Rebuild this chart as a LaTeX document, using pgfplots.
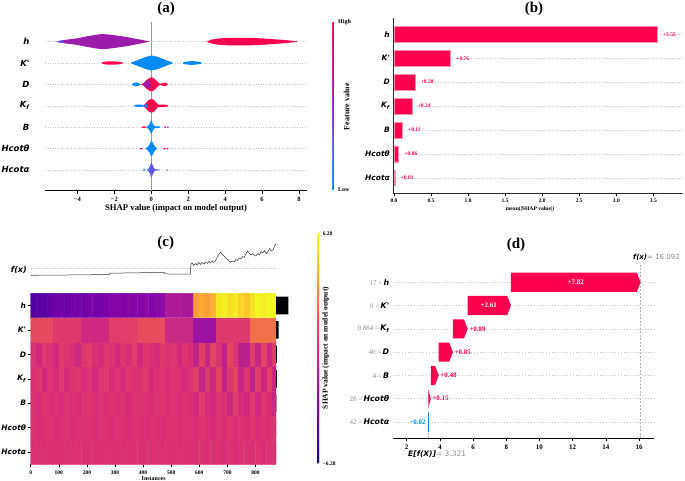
\documentclass[border=0pt]{standalone}
\usepackage{fontspec}
\setmainfont{Liberation Serif}
\newfontfamily\djv{DejaVu Sans}
\usepackage{pgfplots}
\pgfplotsset{compat=1.18}
\definecolor{shapRed}{RGB}{255,0,81}
\definecolor{shapBlue}{RGB}{0,139,251}
\definecolor{shapPurple}{RGB}{155,28,170}
\definecolor{gridc}{RGB}{200,200,200}
\definecolor{slate}{RGB}{92,92,226}
\definecolor{pinkp}{RGB}{185,40,170}
\newcommand{\fs}[1]{\fontsize{#1}{#1}\selectfont}
\newcommand{\feat}[1]{{\djv\bfseries\itshape #1}}
\newcommand{\gv}[1]{{\color{black!45}\fs{7}#1}}
\pgfplotsset{
 colormap={shaprb}{rgb255=(0,139,251) rgb255=(90,100,232) rgb255=(155,35,190) rgb255=(210,10,140) rgb255=(255,0,81)},
 colormap={plasmaS}{rgb255=(13,8,135) rgb255=(76,2,161) rgb255=(126,3,168) rgb255=(170,25,155) rgb255=(215,45,120) rgb255=(232,80,90) rgb255=(248,140,60) rgb255=(253,195,40) rgb255=(240,249,33)},
}
\begin{document}
\begin{tikzpicture}
\path[use as bounding box, fill=white] (0,0) rectangle (685pt,-481pt);

% ---------------- (a) ----------------
\begin{axis}[
 at={(45pt,-190.7pt)}, anchor=south west, scale only axis,
 width=262pt, height=169pt,
 xmin=-5.75, xmax=8.43, ymin=-0.97, ymax=6.93,
 axis x line*=bottom, axis y line*=left,
 y axis line style={draw=none}, ytick style={draw=none},
 x axis line style={line width=0.6pt},
 xtick={-4,-2,0,2,4,6,8},
 xticklabels={−4,−2,0,2,4,6,8},
 xtick align=outside, xtick style={black, line width=0.6pt}, major tick length=3pt,
 ytick={0,...,6},
 yticklabels={\feat{Hcotα},\feat{Hcotθ},\feat{B},\feat{K\textsubscript{f}},\feat{D},\feat{K'},\feat{h}},
 yticklabel style={font=\fs{8.5}},
 yticklabel shift=12pt,
 xticklabel style={font=\bfseries\fs{6.5}},
 ymajorgrids, grid style={gridc, dash pattern=on 0.6pt off 2pt, line width=0.5pt},
 colormap name=shaprb, point meta min=0, point meta max=1,
 colorbar sampled,
 colorbar style={at={(parent axis.north east)}, anchor=north west, xshift=16.9pt,
   scale only axis, width=2.2pt, height=168.3pt, samples=80,
   ytick={0,1}, yticklabels={Low,High}, yticklabel shift=0pt,
   yticklabel style={font=\bfseries\fs{6}},
   major tick length=0pt, axis line style={draw=none}, ytick style={draw=none}, xtick=\empty},
]
\addplot[black!40, line width=1pt] coordinates {(0,-0.97) (0,6.93)};
% h
\addplot[fill=shapPurple, draw=none] coordinates {(-5.12,6.01) (-4.9,6.05) (-4.6,6.09) (-4.2,6.13) (-3.8,6.19) (-3.4,6.26) (-3.0,6.32) (-2.7,6.35) (-2.4,6.34) (-2.0,6.30) (-1.6,6.25) (-1.3,6.21) (-1.0,6.16) (-0.7,6.11) (-0.4,6.06) (-0.12,6.01) (-0.12,5.99) (-0.4,5.94) (-0.7,5.89) (-1.0,5.84) (-1.3,5.79) (-1.6,5.75) (-2.0,5.70) (-2.4,5.66) (-2.7,5.65) (-3.0,5.68) (-3.4,5.74) (-3.8,5.81) (-4.2,5.87) (-4.6,5.91) (-4.9,5.95) (-5.12,5.99)} -- cycle;
\addplot[fill=slate, draw=none] coordinates {(-5.12,6.01) (-4.9,6.05) (-4.75,6.07) (-4.75,5.93) (-4.9,5.95) (-5.12,5.99)} -- cycle;
\addplot[fill=shapRed, draw=none] coordinates {(3.04,6.02) (3.3,6.10) (3.7,6.15) (4.2,6.175) (4.8,6.18) (5.5,6.17) (6.2,6.14) (6.8,6.10) (7.3,6.07) (7.6,6.04) (7.79,6.02) (7.79,5.98) (7.6,5.96) (7.3,5.93) (6.8,5.90) (6.2,5.86) (5.5,5.83) (4.8,5.82) (4.2,5.825) (3.7,5.85) (3.3,5.90) (3.04,5.98)} -- cycle;
\addplot[fill=pinkp, draw=none] coordinates {(7.8,6) (7.83,6.03) (7.88,6.03) (7.9,6) (7.88,5.97) (7.83,5.97)} -- cycle;
% K'
\addplot[fill=shapRed, draw=none] coordinates {(-2.68,5.02) (-2.55,5.06) (-2.3,5.08) (-2.0,5.08) (-1.75,5.06) (-1.54,5.02) (-1.54,4.98) (-1.75,4.94) (-2.0,4.92) (-2.3,4.92) (-2.55,4.94) (-2.68,4.98)} -- cycle;
\addplot[fill=shapBlue, draw=none] coordinates {(-1.09,5.02) (-0.9,5.08) (-0.6,5.18) (-0.3,5.28) (0,5.35) (0.3,5.30) (0.6,5.20) (0.9,5.10) (1.16,5.02) (1.16,4.98) (0.9,4.90) (0.6,4.80) (0.3,4.70) (0,4.65) (-0.3,4.72) (-0.6,4.82) (-0.9,4.92) (-1.09,4.98)} -- cycle;
\addplot[fill=shapBlue, draw=none] coordinates {(1.71,5.02) (1.85,5.06) (2.1,5.085) (2.4,5.08) (2.6,5.05) (2.73,5.02) (2.73,4.98) (2.6,4.95) (2.4,4.92) (2.1,4.915) (1.85,4.94) (1.71,4.98)} -- cycle;
% D
\addplot[fill=shapBlue, draw=none] coordinates {(-1.02,4.02) (-0.95,4.07) (-0.82,4.09) (-0.7,4.07) (-0.61,4.02) (-0.61,3.98) (-0.7,3.93) (-0.82,3.91) (-0.95,3.93) (-1.02,3.98)} -- cycle;
\addplot[fill=shapRed, draw=none] coordinates {(-0.58,4.01) (-0.45,4.04) (-0.35,4.12) (-0.2,4.24) (-0.05,4.32) (0.05,4.33) (0.2,4.24) (0.32,4.13) (0.42,4.05) (0.52,4.025) (0.6,4.06) (0.7,4.08) (0.8,4.07) (0.89,4.02) (0.89,3.98) (0.8,3.93) (0.7,3.92) (0.6,3.94) (0.52,3.975) (0.42,3.95) (0.32,3.87) (0.2,3.76) (0.05,3.67) (-0.05,3.68) (-0.2,3.76) (-0.35,3.88) (-0.45,3.96) (-0.58,3.99)} -- cycle;
\addplot[fill=shapPurple, draw=none] coordinates {(-0.45,4.0) (-0.35,4.09) (-0.2,4.17) (-0.08,4.2) (-0.08,3.8) (-0.2,3.83) (-0.35,3.91)} -- cycle;
% Kf
\addplot[fill=shapBlue, draw=none] coordinates {(-0.93,3.015) (-0.8,3.05) (-0.6,3.06) (-0.45,3.04) (-0.37,3.03) (-0.37,2.97) (-0.45,2.96) (-0.6,2.94) (-0.8,2.95) (-0.93,2.985)} -- cycle;
\addplot[fill=shapRed, draw=none] coordinates {(-0.4,3.03) (-0.3,3.12) (-0.15,3.26) (0,3.32) (0.1,3.30) (0.22,3.20) (0.32,3.10) (0.4,3.05) (0.5,3.05) (0.65,3.06) (0.8,3.05) (0.93,3.015) (0.93,2.985) (0.8,2.95) (0.65,2.94) (0.5,2.95) (0.4,2.95) (0.32,2.90) (0.22,2.80) (0.1,2.70) (0,2.68) (-0.15,2.74) (-0.3,2.88) (-0.4,2.97)} -- cycle;
\addplot[fill=shapBlue, draw=none] coordinates {(-0.4,3.0) (-0.3,3.08) (-0.22,3.1) (-0.22,2.9) (-0.3,2.92)} -- cycle;
% B
\addplot[fill=shapRed, draw=none] coordinates {(-0.51,2.02) (-0.45,2.035) (-0.35,2.035) (-0.28,2.02) (-0.28,1.98) (-0.35,1.965) (-0.45,1.965) (-0.51,1.98)} -- cycle;
\addplot[fill=shapBlue, draw=none] coordinates {(-0.27,2.01) (-0.18,2.06) (-0.1,2.14) (-0.04,2.26) (0,2.33) (0.04,2.26) (0.1,2.13) (0.17,2.06) (0.24,2.035) (0.35,2.04) (0.45,2.03) (0.5,2.01) (0.5,1.99) (0.45,1.97) (0.35,1.96) (0.24,1.965) (0.17,1.94) (0.1,1.87) (0.04,1.74) (0,1.67) (-0.04,1.74) (-0.1,1.86) (-0.18,1.94) (-0.27,1.99)} -- cycle;
\addplot[fill=pinkp, draw=none] coordinates {(0.69,2) (0.72,2.035) (0.78,2.035) (0.8,2) (0.78,1.965) (0.72,1.965)} -- cycle;
\addplot[fill=pinkp, draw=none] coordinates {(0.84,2) (0.87,2.035) (0.92,2.035) (0.95,2) (0.92,1.965) (0.87,1.965)} -- cycle;
% Hcot theta
\addplot[fill=shapRed, draw=none] coordinates {(-0.6,1) (-0.57,1.035) (-0.49,1.035) (-0.46,1) (-0.49,0.965) (-0.57,0.965)} -- cycle;
\addplot[fill=shapBlue, draw=none] coordinates {(-0.3,1.01) (-0.2,1.07) (-0.1,1.18) (-0.03,1.31) (0.02,1.36) (0.07,1.30) (0.15,1.16) (0.22,1.07) (0.3,1.02) (0.3,0.98) (0.22,0.93) (0.15,0.84) (0.07,0.70) (0.02,0.64) (-0.03,0.69) (-0.1,0.82) (-0.2,0.93) (-0.3,0.99)} -- cycle;
\addplot[fill=shapRed, draw=none] coordinates {(0.66,1) (0.69,1.035) (0.76,1.035) (0.78,1) (0.76,0.965) (0.69,0.965)} -- cycle;
\addplot[fill=shapRed, draw=none] coordinates {(0.83,1) (0.86,1.035) (0.91,1.035) (0.93,1) (0.91,0.965) (0.86,0.965)} -- cycle;
% Hcot alpha
\addplot[fill=shapBlue, draw=none] coordinates {(-0.46,0) (-0.43,0.03) (-0.33,0.03) (-0.3,0) (-0.33,-0.03) (-0.43,-0.03)} -- cycle;
\addplot[fill=slate, draw=none] coordinates {(-0.22,0.01) (-0.15,0.06) (-0.08,0.16) (-0.02,0.30) (0.01,0.35) (0.05,0.28) (0.11,0.15) (0.17,0.06) (0.22,0.03) (0.32,0.03) (0.45,0.01) (0.45,-0.01) (0.32,-0.03) (0.22,-0.03) (0.17,-0.06) (0.11,-0.15) (0.05,-0.28) (0.01,-0.35) (-0.02,-0.30) (-0.08,-0.16) (-0.15,-0.06) (-0.22,-0.01)} -- cycle;
\addplot[fill=shapPurple, draw=none] coordinates {(0.82,0) (0.84,0.03) (0.87,0.03) (0.89,0) (0.87,-0.03) (0.84,-0.03)} -- cycle;
\end{axis}

% ---------------- (b) ----------------
\begin{axis}[
 at={(393.3pt,-193.3pt)}, anchor=south west, scale only axis,
 width=289.7pt, height=175pt,
 xmin=-0.01, xmax=3.9, ymin=-0.65, ymax=6.67,
 axis x line*=bottom, axis y line*=left,
 axis line style={line width=0.6pt, black!85},
 ytick={0,...,6}, ytick style={draw=none},
 yticklabels={\feat{Hcotα},\feat{Hcotθ},\feat{B},\feat{K\textsubscript{f}},\feat{D},\feat{K'},\feat{h}},
 yticklabel style={font=\fs{7.5}},
 xtick={0,0.5,1,1.5,2,2.5,3,3.5}, xticklabels={0.0,0.5,1.0,1.5,2.0,2.5,3.0,3.5},
 xticklabel style={font=\bfseries\fs{5.5}},
 xtick align=outside, major tick length=2.5pt, xtick style={black, line width=0.5pt},
 ymajorgrids, grid style={gridc, dash pattern=on 0.6pt off 2pt, line width=0.5pt},
]
\addplot[xbar, bar width=0.66, fill=shapRed, draw=shapRed!45!white, line width=0.4pt,
 point meta=explicit symbolic, nodes near coords,
 nodes near coords style={font=\bfseries\fs{5.5}, text=shapRed, anchor=west, xshift=2.5pt}]
 coordinates {(3.55,6) [+3.55] (0.76,5) [+0.76] (0.28,4) [+0.28] (0.24,3) [+0.24] (0.11,2) [+0.11] (0.06,1) [+0.06] (0.01,0) [+0.01]};
\end{axis}

% ---------------- (c) f(x) line ----------------
\begin{axis}[
 at={(30.7pt,-280pt)}, anchor=south west, scale only axis,
 width=245.3pt, height=40pt,
 xmin=0, xmax=873, ymin=240, ymax=280, y dir=reverse, hide axis,
]
\addplot[gridc, dash pattern=on 0.8pt off 1.2pt, line width=0.5pt] coordinates {(0,268.5) (873,268.5)};
\addplot[black!80, line width=0.5pt] coordinates {
(0,275.3) (100,275.1) (200,274.8) (280,274.5) (283,273.2) (330,273.0) (380,272.8) (430,272.5) (475,272.3) (478,273.9) (520,274.2) (568,274.0)
(570,264.5) (575,263) (580,265.5) (586,263.5) (592,265) (598,262.5) (604,264.5) (610,262.5) (616,264) (622,262) (628,263.5) (634,261.5) (640,263) (646,261) (652,262.5) (658,260.5)
(664,257) (670,254) (676,252) (682,254.5) (688,256) (694,258) (700,259.5) (706,261) (712,262) (718,261) (724,262) (730,259.5) (736,260.5) (742,258) (748,259) (754,256.5) (760,257.5)
(766,253.5) (772,251) (778,253.5) (784,255) (790,253.5) (796,255.5) (802,256) (808,253.5) (814,255) (820,251.5) (826,253) (832,250.5) (838,253.5) (844,252) (850,248.5) (856,251) (862,250) (866,247.5) (872,244)};
\end{axis}

% ---------------- (c) heatmap ----------------
\begin{axis}[
 at={(30.7pt,-464.3pt)}, anchor=south west, scale only axis,
 width=245.3pt, height=171pt,
 xmin=0, xmax=873, ymin=-0.5, ymax=6.5,
 axis x line*=bottom, axis y line*=left, axis line style={draw=none},
 xtick={0,100,200,300,400,500,600,700,800}, xticklabels={0,100,200,300,400,500,600,700,800},
 xticklabel style={font=\bfseries\fs{5.5}},
 ytick={0,...,6},
 yticklabels={\feat{Hcotα},\feat{Hcotθ},\feat{B},\feat{K\textsubscript{f}},\feat{D},\feat{K'},\feat{h}},
 yticklabel style={font=\fs{7.5}, inner xsep=1.5pt},
 tick align=outside, major tick length=3pt, tick style={black, line width=0.5pt},
 colormap name=plasmaS, point meta min=-6.28, point meta max=6.28,
 colorbar sampled,
 colorbar style={at={(parent axis.south east)}, anchor=south west, xshift=32.3pt, yshift=1pt,
   scale only axis, width=2.4pt, height=230pt, samples=80,
   ytick={-6.28,6.28}, yticklabels={−6.28,6.28}, yticklabel shift=0pt,
   yticklabel style={font=\bfseries\fs{5.5}},
   major tick length=0pt, axis line style={draw=none}, ytick style={draw=none}, xtick=\empty},
]
\addplot[matrix plot*, mesh/cols=44, point meta=explicit] table[row sep=\\, meta=c] {
x y c\\
10 0 0.25\\30 0 0.25\\50 0 0.25\\70 0 0.25\\90 0 0.25\\110 0 0.25\\130 0 0.25\\150 0 0.25\\170 0 0.25\\190 0 0.25\\210 0 0.25\\230 0 0.25\\250 0 0.25\\270 0 0.25\\290 0 0.25\\310 0 0.25\\330 0 0.25\\350 0 0.25\\370 0 0.25\\390 0 0.25\\410 0 0.25\\430 0 0.25\\450 0 0.25\\470 0 0.25\\490 0 0.25\\510 0 0.25\\530 0 0.25\\550 0 0.25\\570 0 0.25\\590 0 0.2\\610 0 0.3\\630 0 0.15\\650 0 0.3\\670 0 0.25\\690 0 0.2\\710 0 0.35\\730 0 0.15\\750 0 0.3\\770 0 0.25\\790 0 0.2\\810 0 0.3\\830 0 0.15\\850 0 0.3\\870 0 0.25\\
10 1 0.3\\30 1 0.2\\50 1 0.25\\70 1 0.3\\90 1 0.2\\110 1 0.25\\130 1 0.3\\150 1 0.2\\170 1 0.25\\190 1 0.3\\210 1 0.25\\230 1 0.2\\250 1 0.3\\270 1 0.25\\290 1 0.2\\310 1 0.3\\330 1 0.25\\350 1 0.2\\370 1 0.3\\390 1 0.25\\410 1 0.2\\430 1 0.3\\450 1 0.25\\470 1 0.2\\490 1 0.3\\510 1 0.25\\530 1 0.2\\550 1 0.3\\570 1 0.25\\590 1 0.1\\610 1 0.4\\630 1 0.2\\650 1 0.0\\670 1 0.35\\690 1 0.15\\710 1 0.4\\730 1 0.05\\750 1 0.3\\770 1 0.2\\790 1 0.45\\810 1 0.1\\830 1 0.3\\850 1 0.2\\870 1 0.35\\
10 2 0.3\\30 2 0.1\\50 2 0.4\\70 2 0.2\\90 2 0.3\\110 2 0.0\\130 2 0.4\\150 2 0.2\\170 2 0.1\\190 2 0.3\\210 2 0.4\\230 2 0.2\\250 2 0.3\\270 2 0.1\\290 2 0.4\\310 2 0.2\\330 2 0.3\\350 2 0.0\\370 2 0.3\\390 2 0.4\\410 2 0.2\\430 2 0.1\\450 2 0.3\\470 2 0.4\\490 2 0.2\\510 2 0.3\\530 2 0.1\\550 2 0.3\\570 2 0.2\\590 2 -0.2\\610 2 0.6\\630 2 0.1\\650 2 -0.3\\670 2 0.5\\690 2 0.2\\710 2 -0.4\\730 2 0.7\\750 2 0.0\\770 2 -0.2\\790 2 0.6\\810 2 -0.3\\830 2 0.5\\850 2 0.1\\870 2 -0.4\\
10 3 0.2\\30 3 0.5\\50 3 -0.2\\70 3 0.4\\90 3 0.1\\110 3 0.6\\130 3 -0.1\\150 3 0.3\\170 3 0.5\\190 3 0.0\\210 3 0.4\\230 3 -0.2\\250 3 0.3\\270 3 0.6\\290 3 0.1\\310 3 0.4\\330 3 -0.1\\350 3 0.5\\370 3 0.2\\390 3 0.3\\410 3 0.6\\430 3 -0.1\\450 3 0.2\\470 3 0.4\\490 3 0.1\\510 3 0.5\\530 3 0.2\\550 3 -0.1\\570 3 0.3\\590 3 0.9\\610 3 -0.7\\630 3 0.6\\650 3 -0.4\\670 3 1.0\\690 3 -0.8\\710 3 0.5\\730 3 1.1\\750 3 -0.5\\770 3 0.4\\790 3 -0.9\\810 3 0.8\\830 3 -0.3\\850 3 1.0\\870 3 -0.6\\
10 4 0.3\\30 4 -0.3\\50 4 0.6\\70 4 0.2\\90 4 -0.2\\110 4 0.7\\130 4 0.4\\150 4 0.1\\170 4 -0.4\\190 4 0.5\\210 4 0.8\\230 4 0.2\\250 4 -0.1\\270 4 0.6\\290 4 0.3\\310 4 -0.3\\330 4 0.5\\350 4 0.1\\370 4 0.7\\390 4 -0.2\\410 4 0.4\\430 4 0.2\\450 4 -0.1\\470 4 0.6\\490 4 0.3\\510 4 0.5\\530 4 -0.2\\550 4 0.4\\570 4 0.1\\590 4 -0.8\\610 4 0.9\\630 4 -0.5\\650 4 1.1\\670 4 0.2\\690 4 -0.9\\710 4 1.2\\730 4 0.3\\750 4 -1.0\\770 4 -0.9\\790 4 0.8\\810 4 -0.6\\830 4 1.0\\850 4 -0.4\\870 4 0.7\\
10 5 1.3\\30 5 1.3\\50 5 1.3\\70 5 1.3\\90 5 0.6\\110 5 0.6\\130 5 0.6\\150 5 0.6\\170 5 0.6\\190 5 -0.3\\210 5 -0.3\\230 5 -0.3\\250 5 -0.3\\270 5 -0.3\\290 5 0.7\\310 5 0.7\\330 5 0.7\\350 5 0.7\\370 5 0.7\\390 5 1.4\\410 5 1.4\\430 5 1.4\\450 5 1.4\\470 5 1.4\\490 5 -0.4\\510 5 -0.4\\530 5 -0.4\\550 5 -0.4\\570 5 -0.4\\590 5 -2.0\\610 5 -2.0\\630 5 -2.0\\650 5 -2.0\\670 5 0.6\\690 5 0.6\\710 5 0.6\\730 5 0.6\\750 5 0.6\\770 5 0.6\\790 5 2.4\\810 5 2.4\\830 5 2.4\\850 5 2.4\\870 5 2.4\\
10 6 -4.5\\30 6 -4.2\\50 6 -4.3\\70 6 -4.0\\90 6 -3.6\\110 6 -3.5\\130 6 -3.7\\150 6 -3.4\\170 6 -3.5\\190 6 -3.6\\210 6 -3.3\\230 6 -3.5\\250 6 -3.4\\270 6 -3.2\\290 6 -3.0\\310 6 -2.9\\330 6 -3.1\\350 6 -2.8\\370 6 -3.0\\390 6 -2.9\\410 6 -2.7\\430 6 -3.0\\450 6 -2.8\\470 6 -2.6\\490 6 -1.5\\510 6 -1.5\\530 6 -1.4\\550 6 -1.6\\570 6 -1.5\\590 6 3.6\\610 6 4.0\\630 6 3.7\\650 6 4.2\\670 6 5.8\\690 6 6.0\\710 6 5.5\\730 6 5.9\\750 6 5.2\\770 6 4.8\\790 6 5.6\\810 6 6.1\\830 6 5.9\\850 6 6.2\\870 6 6.2\\
};
\end{axis}

% ---------------- (c) mean |SHAP| bars ----------------
\begin{axis}[
 at={(276pt,-464.3pt)}, anchor=south west, scale only axis,
 width=14pt, height=171pt,
 xmin=0, xmax=4.04, ymin=-0.5, ymax=6.5, hide axis,
]
\addplot[xbar, bar width=0.72, fill=black, draw=none] coordinates {(3.55,6) (0.76,5) (0.28,4) (0.24,3) (0.11,2) (0.06,1) (0.01,0)};
\end{axis}

% ---------------- (d) ----------------
\begin{axis}[
 at={(392.7pt,-438.3pt)}, anchor=south west, scale only axis,
 width=261.3pt, height=174pt,
 xmin=1.157, xmax=16.9, ymin=-0.7, ymax=6.77,
 axis x line*=bottom, axis y line*=left,
 y axis line style={draw=none}, ytick style={draw=none},
 x axis line style={line width=0.6pt},
 xtick={2,4,6,8,10,12,14,16}, xticklabels={2,4,6,8,10,12,14,16},
 xticklabel style={font=\bfseries\fs{7}},
 xtick align=outside, major tick length=3pt, xtick style={black, line width=0.6pt},
 ytick={0,...,6},
 yticklabels={{\gv{42 =}\,\feat{Hcotα}},{\gv{28 =}\,\feat{Hcotθ}},{\gv{4 =}\,\feat{B}},{\gv{40 =}\,\feat{D}},{\gv{0.864 =}\,\feat{K\textsubscript{f}}},{\gv{0 =}\,\feat{K'}},{\gv{17 =}\,\feat{h}}},
 yticklabel style={font=\fs{7.8}},
 ymajorgrids, grid style={gridc, dash pattern=on 0.5pt off 2.5pt, line width=0.5pt},
 clip=false,
]
\addplot[black!30, dash pattern=on 2pt off 1.5pt, line width=0.5pt] coordinates {(16.092,-0.7) (16.092,6.77)};
\addplot[black!30, dash pattern=on 2pt off 1.5pt, line width=0.5pt] coordinates {(3.321,-0.7) (3.321,0.37)};
\addplot[fill=shapRed, draw=none] coordinates {(8.281,5.59) (15.872,5.59) (16.092,6) (15.872,6.41) (8.281,6.41)} -- cycle;
\addplot[fill=shapRed, draw=none] coordinates {(5.671,4.59) (8.061,4.59) (8.281,5) (8.061,5.41) (5.671,5.41)} -- cycle;
\addplot[fill=shapRed, draw=none] coordinates {(4.781,3.59) (5.451,3.59) (5.671,4) (5.451,4.41) (4.781,4.41)} -- cycle;
\addplot[fill=shapRed, draw=none] coordinates {(3.931,2.59) (4.561,2.59) (4.781,3) (4.561,3.41) (3.931,3.41)} -- cycle;
\addplot[fill=shapRed, draw=none] coordinates {(3.451,1.59) (3.711,1.59) (3.931,2) (3.711,2.41) (3.451,2.41)} -- cycle;
\addplot[fill=shapRed, draw=none] coordinates {(3.301,0.59) (3.451,1) (3.301,1.41)} -- cycle;
\addplot[shapBlue, line width=0.9pt] coordinates {(3.31,-0.41) (3.31,0.41)};
\node[font=\bfseries\fs{7}, text=white] at (axis cs:12.19,6) {+7.82};
\node[font=\bfseries\fs{7}, text=white] at (axis cs:6.95,5) {+2.61};
\node[font=\bfseries\fs{7}, text=shapRed, anchor=west, inner sep=1.5pt] at (axis cs:5.671,4) {+0.89};
\node[font=\bfseries\fs{7}, text=shapRed, anchor=west, inner sep=1.5pt] at (axis cs:4.781,3) {+0.85};
\node[font=\bfseries\fs{7}, text=shapRed, anchor=west, inner sep=1.5pt] at (axis cs:3.931,2) {+0.48};
\node[font=\bfseries\fs{7}, text=shapRed, anchor=west, inner sep=1.5pt] at (axis cs:3.451,1) {+0.15};
\node[font=\bfseries\fs{7}, text=shapBlue, anchor=east, inner sep=1.5pt] at (axis cs:3.25,0) {−0.02};
\end{axis}

% ---------------- texts ----------------
\node[font=\bfseries\fs{15}] at (166pt,-9pt) {(a)};
\node[font=\bfseries\fs{15}] at (534pt,-9pt) {(b)};
\node[font=\bfseries\fs{15}] at (165.7pt,-243.3pt) {(c)};
\node[font=\bfseries\fs{15}] at (516pt,-245pt) {(d)};
\node[font=\bfseries\fs{8.7}] at (176pt,-208.3pt) {SHAP value (impact on model output)};
\node[font=\bfseries\fs{5.6}] at (530pt,-209.3pt) {mean(|SHAP value|)};
\node[font=\bfseries\fs{6}] at (153.7pt,-478.5pt) {Instances};
\node[rotate=90, font=\bfseries\fs{8}] at (346.7pt,-106.7pt) {Feature value};
\node[rotate=90, font=\bfseries\fs{7.5}] at (325.7pt,-348pt) {SHAP value (impact on model output)};
\node[anchor=east, inner sep=0pt, font=\fs{8}] at (27pt,-270pt) {\feat{f(x)}};
\node[anchor=west, inner sep=0pt, font=\fs{7}] at (633pt,-257.7pt) {\feat{f(x)}{\djv\color{black!45} = 16.092}};
\node[anchor=west, inner sep=0pt, font=\fs{7.5}] at (408pt,-454.3pt) {\feat{E[f(X)]}{\djv\color{black!45} = 3.321}};
\end{tikzpicture}
\end{document}
